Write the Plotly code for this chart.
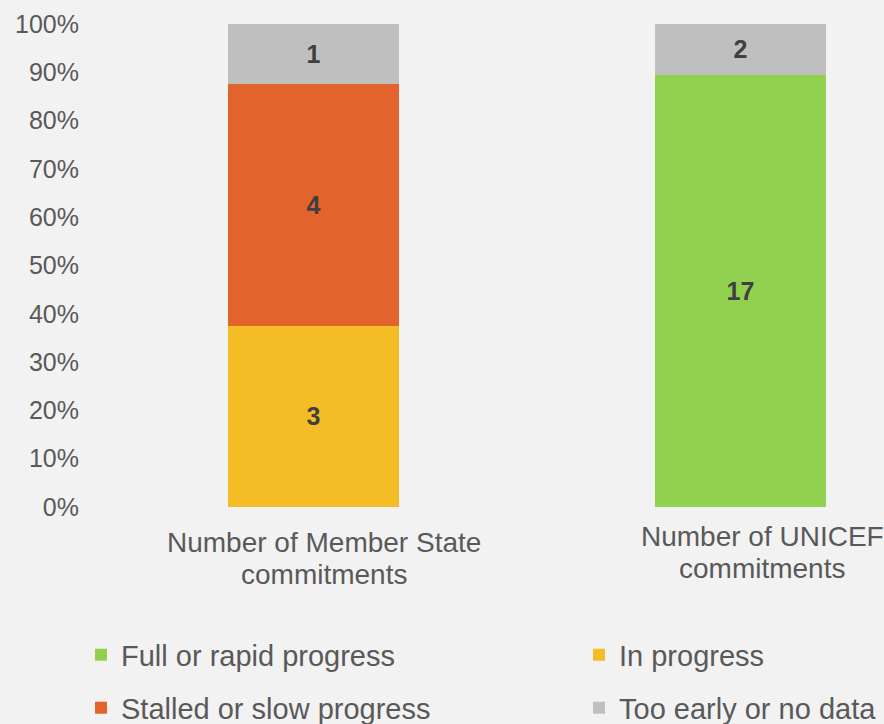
import plotly.graph_objects as go

categories = ["Member State", "UNICEF"]
category_label_lines = [["Number of Member State", "commitments"], ["Number of UNICEF", "commitments"]]
series_names = ["Full or rapid progress", "In progress", "Stalled or slow progress", "Too early or no data"]
full_rapid = [0, 17]
in_progress = [3, 0]
stalled = [4, 0]
too_early = [1, 2]
tick_values = [0, 10, 20, 30, 40, 50, 60, 70, 80, 90, 100]
tick_labels = ["0%", "10%", "20%", "30%", "40%", "50%", "60%", "70%", "80%", "90%", "100%"]
colors = ["#92D050", "#F5BD25", "#E2632B", "#BFBFBF"]

W, H = 884, 724
L, R, T, B = 80, 0, 24, 217

fig = go.Figure()
series = [full_rapid, in_progress, stalled, too_early]
legend_ids = ["legend", "legend2", "legend3", "legend4"]
for name, vals, col, lid in zip(series_names, series, colors, legend_ids):
    fig.add_trace(go.Bar(
        x=[0, 1], y=[v if v else None for v in vals],
        name=name, marker=dict(color=col, line=dict(width=0)),
        text=[str(v) if v else "" for v in vals],
        textposition="inside", insidetextanchor="middle", textangle=0,
        textfont=dict(family="Liberation Sans, Arial", size=25, color="#404040", weight="bold"),
        width=0.4, legend=lid, hoverinfo="skip", showlegend=True,
    ))

fig.update_layout(
    barmode="stack", barnorm="percent",
    width=W, height=H,
    margin=dict(l=L, r=R, t=T, b=B),
    paper_bgcolor="#F2F2F2", plot_bgcolor="#F2F2F2",
    font=dict(family="Liberation Sans, Arial", color="#595959"),
    showlegend=True,
)
fig.update_xaxes(range=[-0.5468, 1.3361], showticklabels=False, showgrid=False,
                 zeroline=False, showline=False, fixedrange=True)
fig.update_yaxes(range=[0, 100], tickmode="array", tickvals=tick_values, ticktext=tick_labels,
                 showgrid=False, zeroline=False, showline=False,
                 tickfont=dict(size=25, color="#595959"))

leg_pos = [(81, 655), (579, 655), (81, 708), (579, 708)]
leg_layout = {}
for lid, (px, py) in zip(legend_ids, leg_pos):
    leg_layout[lid] = dict(x=px / W, y=1 - py / H, xref="container", yref="container",
                           xanchor="left", yanchor="middle", orientation="h",
                           bgcolor="rgba(0,0,0,0)", font=dict(size=29, color="#595959"),
                           itemclick=False, itemdoubleclick=False, visible=True)
fig.update_layout(**leg_layout)

# category labels (one annotation per line), pixel positions converted to paper coords
label_x = [324, 762]
label_top = [525, 519]
line_step = 32
for lines, px, top in zip(category_label_lines, label_x, label_top):
    for i, line in enumerate(lines):
        py = top + i * line_step
        fig.add_annotation(text=line, x=(px - L) / (W - L - R), y=1 - (py - T) / (H - T - B),
                           xref="paper", yref="paper", xanchor="center", yanchor="top",
                           showarrow=False, align="center",
                           font=dict(size=28, color="#595959"))

fig.write_html("out.html", config={"displayModeBar": False},
               post_script="document.body.style.margin='0';")
